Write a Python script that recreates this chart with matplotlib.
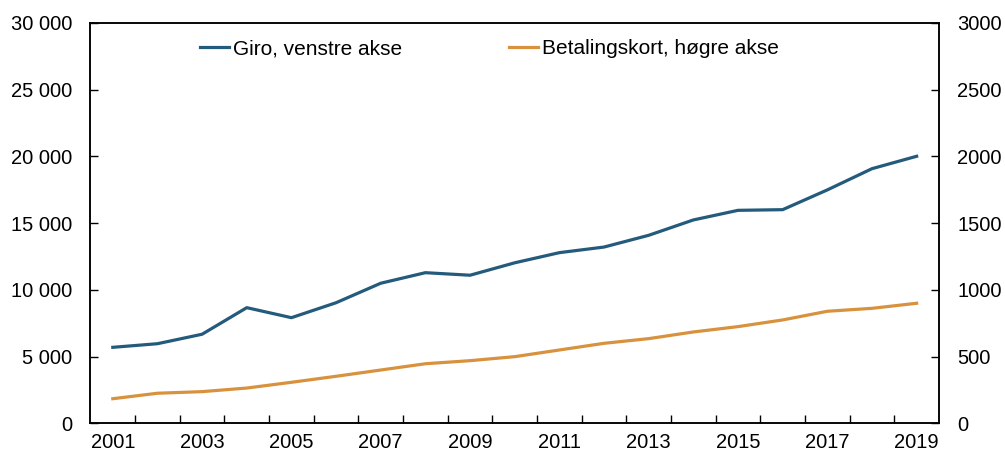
import matplotlib
matplotlib.use('Agg')
import matplotlib.pyplot as plt
import matplotlib.ticker as ticker

years = list(range(2001, 2020))
giro = [5690, 5960, 6670, 8660, 7910, 9030, 10490, 11280, 11090, 12020,
        12780, 13200, 14080, 15230, 15950, 16000, 17480, 19070, 20000]
kort = [184, 225, 237, 264, 307, 352, 399, 446, 469, 499,
        549, 599, 634, 684, 724, 774, 839, 861, 899]
year_labels = [str(y) for y in years[::2]]

blue = '#245b7c'
orange = '#d8923e'

plt.rcParams['font.family'] = ['Liberation Sans', 'DejaVu Sans']
fs = 14.5

fig = plt.figure(figsize=(10.05, 4.55), dpi=100)
ax = fig.add_axes([0.09, 0.0697, 0.8443, 0.8803])
ax2 = ax.twinx()

l1, = ax.plot(years, giro, color=blue, linewidth=2.3, label='Giro, venstre akse')
l2, = ax2.plot(years, kort, color=orange, linewidth=2.3, label='Betalingskort, høgre akse')

ax.set_xlim(2000.5, 2019.5)
ax.set_ylim(0, 30000)
ax2.set_ylim(0, 3000)
ax.set_yticks(range(0, 30001, 5000))
ax2.set_yticks(range(0, 3001, 500))
ax.yaxis.set_major_formatter(ticker.FuncFormatter(lambda v, _: f"{int(v):,}".replace(',', ' ')))

# year labels centred on points, tick marks on the category borders
ax.set_xticks(years[::2])
ax.set_xticklabels(year_labels)
ax.set_xticks([y + 0.5 for y in years[:-1]], minor=True)
ax.tick_params(axis='x', which='major', length=0, labelsize=fs, pad=7)
ax.tick_params(axis='x', which='minor', direction='in', length=6, width=1)
ax.tick_params(axis='y', direction='in', length=6, width=1, labelsize=fs, pad=13)
ax2.tick_params(axis='y', direction='in', length=6, width=1, labelsize=fs, pad=13)

for a in (ax, ax2):
    for s in a.spines.values():
        s.set_linewidth(1.1)

ax.legend([l1, l2], [l1.get_label(), l2.get_label()], loc='upper center',
          bbox_to_anchor=(0.47, 1.005), ncol=2, frameon=False, fontsize=15,
          handlelength=1.4, handletextpad=0.2, columnspacing=5.1)

plt.savefig('out.png', dpi=100)
